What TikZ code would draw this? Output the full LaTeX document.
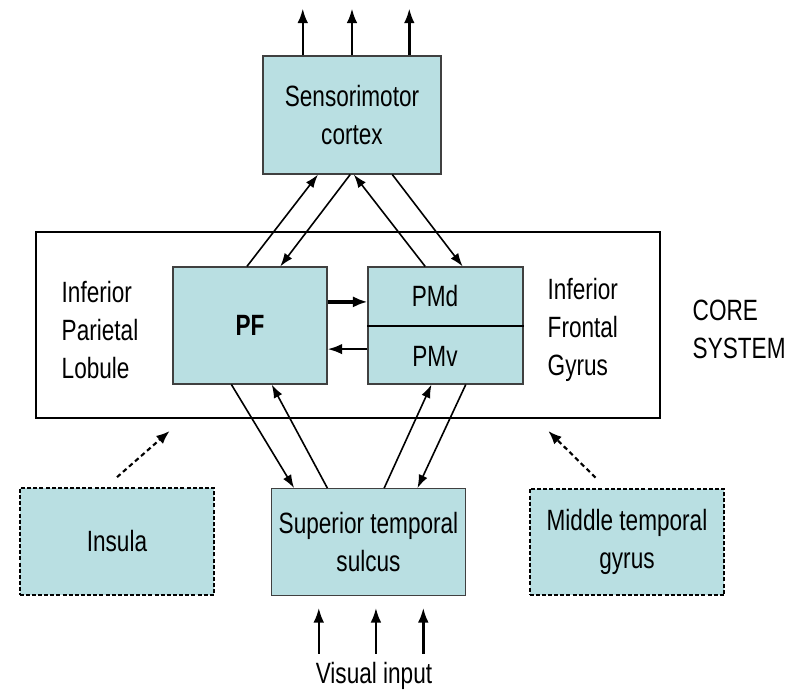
\documentclass[tikz,border=0pt]{standalone}
\usepackage{fontspec}
\setmainfont{Liberation Sans}[FakeStretch=0.77]
\usetikzlibrary{arrows.meta, calc}
\definecolor{boxfill}{RGB}{185,223,226}
\tikzset{
    area/.style = {
        rectangle, draw=black!75, fill=boxfill,
        line width=0.8pt, inner sep=0pt,
        align=center
    },
    lower/.style = {
        area,
        minimum width=146pt,
        minimum height=80pt
    },
    extra/.style = {
        lower, draw=black, line width=1.5pt,
        dash pattern=on 3pt off 1.6pt
    },
    frame/.style = {
        rectangle, draw, fill=white,
        line width=1.6pt,
        minimum width=468pt,
        minimum height=139.5pt
    },
    label/.style = {
        align=left, anchor=west
    },
    link/.style = {
        -{Latex[length=10pt,width=7pt]}, line width=1.2pt
    },
    heavy/.style = {
        -{Latex[length=11pt,width=8.5pt]}, line width=2.6pt
    },
    outarrow/.style = {
        -{Latex[length=11pt,width=8pt]}, line width=1.8pt
    },
    dashlink/.style = {
        -{Latex[length=10pt,width=8pt]}, line width=1.6pt,
        dash pattern=on 3.5pt off 2.5pt
    }
}
\begin{document}
\begin{tikzpicture}[x=0.75pt, y=-0.75pt, font=\fontsize{22}{28.5}\selectfont]
\useasboundingbox (0,0) rectangle (808,696);

% core system
\node (core) [frame] at (348,325) {};
\node (pf) [area, minimum width=115.5pt, minimum height=87.75pt] at (250,325.5) {\textbf{PF}};
\node (pm) [area, minimum width=116.25pt, minimum height=87.75pt] at (445.5,325.5) {};
\draw [line width=1.5pt] (pm.west) -- (pm.east);
\node (pmd) at (435,296) {PMd};
\node (pmv) at (435,356) {PMv};
\node (ipl) [label] at (57,330) {Inferior\\Parietal\\Lobule};
\node (ifg) [label] at (543,330) {Inferior\\Frontal\\Gyrus};
\node (cs) [label] at (688,329) {CORE\\SYSTEM};

% other areas
\node (smc) [area, minimum width=133.5pt, minimum height=88.5pt] at (352,115) {Sensorimotor\\cortex};
\node (insula) [extra] at (117,541.5) {Insula};
\node (sts) [lower] at (368.5,542) {Superior temporal\\sulcus};
\node (mtg) [extra] at (627,542) {Middle temporal\\gyrus};
\node (vis) at (374,676) {Visual input};

% outputs and inputs
\foreach \f in {0.225,0.5,0.82}
    \draw [outarrow] ($(smc.north west)!\f!(smc.north east)$) -- ++(0,-47);
\foreach \f in {0.246,0.538,0.78}
    \draw [outarrow] ($(sts.south west)!\f!(sts.south east)+(0,58)$) -- ++(0,-46);

% sensorimotor <-> core
\draw [link] ($(pf.north west)!0.48!(pf.north east)$) -- ($(smc.south west)!0.31!(smc.south east)$);
\draw [link] ($(smc.south west)!0.49!(smc.south east)$) -- ($(pf.north west)!0.695!(pf.north east)$);
\draw [link] ($(pm.north west)!0.37!(pm.north east)$) -- ($(smc.south west)!0.51!(smc.south east)$);
\draw [link] ($(smc.south west)!0.725!(smc.south east)$) -- ($(pm.north west)!0.61!(pm.north east)$);

% inside core
\draw [heavy] ($(pf.north east)!0.3!(pf.south east)$) -- ($(pm.north west)!0.3!(pm.south west)$);
\draw [outarrow] ($(pm.north west)!0.7!(pm.south west)$) -- ($(pf.north east)!0.7!(pf.south east)$);

% core <-> sts
\draw [link] ($(pf.south west)!0.38!(pf.south east)$) -- ($(sts.north west)!0.12!(sts.north east)$);
\draw [link] ($(sts.north west)!0.29!(sts.north east)$) -- ($(pf.south west)!0.64!(pf.south east)$);
\draw [link] ($(sts.north west)!0.58!(sts.north east)$) -- ($(pm.south west)!0.41!(pm.south east)$);
\draw [link] ($(pm.south west)!0.63!(pm.south east)$) -- ($(sts.north west)!0.75!(sts.north east)$);

% dashed inputs
\draw [dashlink] ($(insula.north)+(0,-10)$) -- ($(core.south west)!0.215!(core.south east)+(0,12)$);
\draw [dashlink] ($(mtg.north west)!0.34!(mtg.north east)+(0,-10)$) -- ($(core.south west)!0.82!(core.south east)+(0,12)$);

\end{tikzpicture}
\end{document}
